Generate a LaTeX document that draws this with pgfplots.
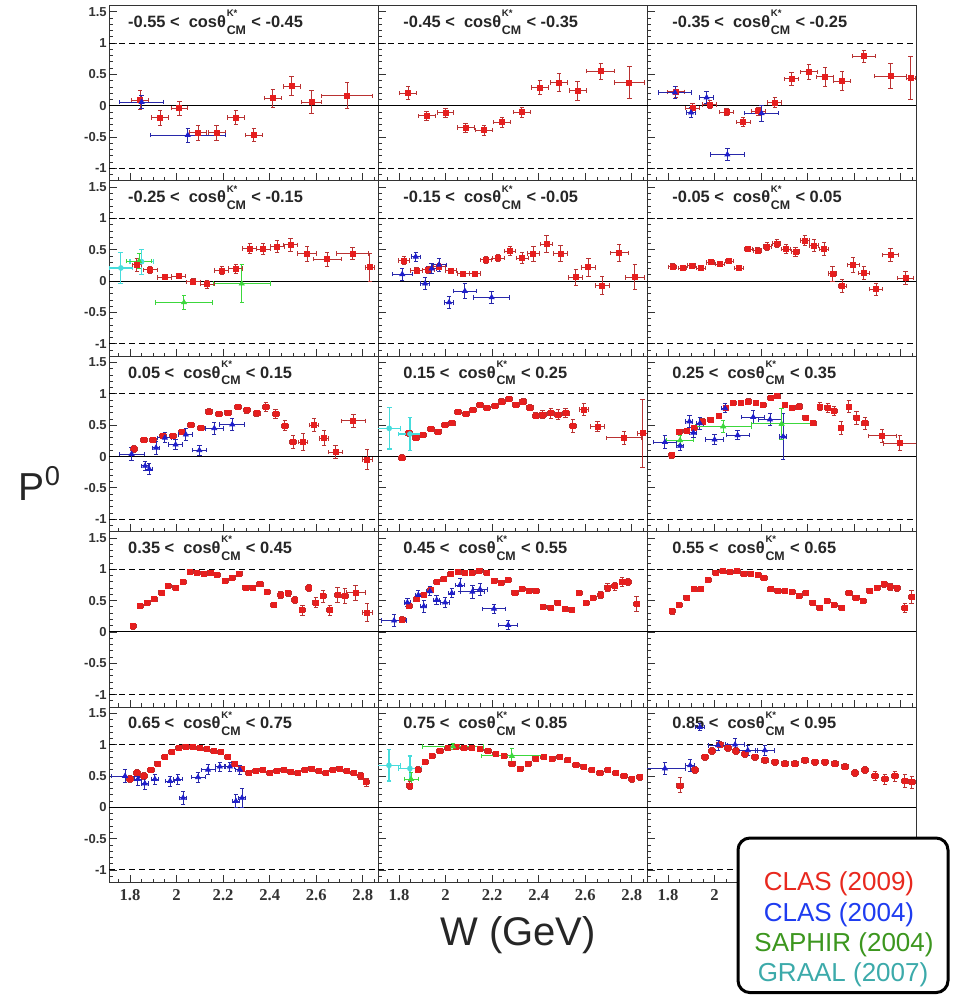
\documentclass[border=0pt]{standalone}
\usepackage{pgfplots}
\pgfplotsset{compat=1.18}
\usepackage{fontspec}
\setmainfont{Liberation Sans}
\newfontfamily\serifb{Liberation Serif}
\definecolor{redmark}{RGB}{230,30,30}
\definecolor{redbar}{RGB}{185,50,50}
\definecolor{bluemark}{RGB}{30,30,205}
\definecolor{bluebar}{RGB}{40,40,170}
\definecolor{greenmark}{RGB}{60,215,60}
\definecolor{cyanmark}{RGB}{70,220,220}
\definecolor{legred}{RGB}{232,40,30}
\definecolor{legblue}{RGB}{30,60,240}
\definecolor{leggreen}{RGB}{60,150,30}
\definecolor{legcyan}{RGB}{60,170,170}
\pgfplotsset{
 table/T/.style={x index=0,y index=1,x error index=2,y error index=3,row sep=\\},
 panel/.style={scale only axis, width=134.5pt, height=87.7pt, anchor=north west,
  xmin=1.71, xmax=2.865, ymin=-1.2, ymax=1.6,
  axis line style={black!80, line width=0.5pt},
  tick align=inside, xtick pos=bottom, ytick pos=left,
  xtick={1.8,2,2.2,2.4,2.6,2.8},
  minor xtick={1.75,1.85,1.9,1.95,2.05,2.1,2.15,2.25,2.3,2.35,2.45,2.5,2.55,2.65,2.7,2.75,2.85},
  ytick={-1,-0.5,0,0.5,1,1.5},
  minor ytick={-1.1,-0.9,-0.8,-0.7,-0.6,-0.4,-0.3,-0.2,-0.1,0.1,0.2,0.3,0.4,0.6,0.7,0.8,0.9,1.1,1.2,1.3,1.4},
  xticklabels={}, yticklabels={},
  major tick length=3.8pt, minor tick length=1.9pt,
  every tick/.style={black!80, line width=0.4pt},
  yticklabel style={font=\fontsize{6.5}{7}\selectfont\bfseries, text=black!80, inner sep=1pt},
  xticklabel style={font=\serifb\bfseries\fontsize{8.3}{9}\selectfont, text=black!80, inner sep=0pt, yshift=-3.5pt},
 },
 leftcol/.style={yticklabels={-1,-0.5,0,0.5,1,1.5}},
 botrow/.style={xticklabels={1.8,2,2.2,2.4,2.6,2.8}},
 eb/.style={only marks, error bars/x dir=both, error bars/x explicit, error bars/y dir=both, error bars/y explicit},
 clas09/.style={eb, mark=square*, mark size=1.25pt, mark options={draw=redmark, fill=redmark},
  error bars/error bar style={draw=redbar, line width=0.45pt},
  error bars/error mark options={rotate=90, mark size=1.1pt, draw=redbar, line width=0.45pt}},
 clas04/.style={eb, mark=triangle*, mark size=1.4pt, mark options={draw=bluemark, fill=bluemark},
  error bars/error bar style={draw=bluebar, line width=0.45pt},
  error bars/error mark options={rotate=90, mark size=1.1pt, draw=bluebar, line width=0.45pt}},
 saphir/.style={eb, mark=triangle*, mark size=1.4pt, mark options={draw=greenmark, fill=greenmark},
  error bars/error bar style={draw=greenmark, line width=0.5pt},
  error bars/error mark options={rotate=90, mark size=1.1pt, draw=greenmark, line width=0.5pt}},
 graal/.style={eb, mark=*, mark size=1.2pt, mark options={draw=cyanmark, fill=cyanmark},
  error bars/error bar style={draw=cyanmark, line width=0.6pt},
  error bars/error mark options={rotate=90, mark size=1.2pt, draw=cyanmark, line width=0.6pt}},
}
\newcommand{\reflines}{%
 \draw[black, line width=0.5pt] (axis cs:1.71,0) -- (axis cs:2.865,0);
 \draw[black, line width=0.5pt, dash pattern=on 3pt off 2pt] (axis cs:1.71,1) -- (axis cs:2.865,1);
 \draw[black, line width=0.5pt, dash pattern=on 3pt off 2pt] (axis cs:1.71,-1) -- (axis cs:2.865,-1);}
\newcommand{\kcm}{\kern0.4pt\rlap{\raisebox{5.3pt}{\fontsize{4.8}{4.8}\selectfont K*}}\raisebox{-3.4pt}{\fontsize{6.2}{6.2}\selectfont CM}\kern0.4pt}
\newcommand{\ptitle}[3]{\node[anchor=base west, inner sep=0pt, text=black!85, font=\fontsize{8.2}{9}\selectfont\bfseries] at (rel axis cs:#1,0.876) {#2 <~~cosθ\kcm{} < #3};}
\begin{document}
\begin{tikzpicture}
\path[use as bounding box] (0,0) rectangle (480pt,-497.5pt);
% ---------------- row 0
\begin{axis}[panel, leftcol, at={(54.5pt,-2.75pt)}]
\reflines
\addplot[clas09] table[T]{1.843 0.09 0.036 0.15\\ 1.929 -0.19 0.036 0.12\\ 2.012 -0.04 0.036 0.11\\ 2.092 -0.43 0.036 0.12\\ 2.172 -0.43 0.036 0.12\\ 2.254 -0.19 0.036 0.11\\ 2.332 -0.47 0.036 0.10\\ 2.413 0.12 0.036 0.14\\ 2.494 0.31 0.036 0.15\\ 2.580 0.06 0.043 0.18\\ 2.733 0.16 0.11 0.21\\};
\addplot[clas04] table[T]{1.850 0.06 0.094 0.10\\ 2.048 -0.47 0.16 0.11\\};
\ptitle{0.07}{-0.55}{-0.45}
\end{axis}
\begin{axis}[panel, at={(189pt,-2.75pt)}]
\reflines
\addplot[clas09] table[T]{1.840 0.20 0.036 0.10\\ 1.919 -0.16 0.036 0.07\\ 2.000 -0.11 0.036 0.07\\ 2.086 -0.35 0.036 0.07\\ 2.165 -0.39 0.036 0.08\\ 2.243 -0.26 0.036 0.08\\ 2.327 -0.10 0.036 0.08\\ 2.405 0.29 0.036 0.11\\ 2.487 0.37 0.036 0.14\\ 2.567 0.24 0.036 0.15\\ 2.667 0.55 0.06 0.13\\ 2.789 0.37 0.064 0.26\\};
\ptitle{0.093}{-0.45}{-0.35}
\end{axis}
\begin{axis}[panel, at={(323.5pt,-2.75pt)}]
\reflines
\addplot[clas09] table[T]{1.834 0.22 0.036 0.08\\ 1.906 -0.04 0.03 0.07\\ 1.980 0.02 0.03 0.07\\ 2.052 -0.10 0.03 0.06\\ 2.123 -0.26 0.03 0.07\\ 2.188 -0.09 0.03 0.07\\ 2.259 0.05 0.03 0.08\\ 2.331 0.43 0.03 0.10\\ 2.405 0.54 0.036 0.12\\ 2.474 0.46 0.036 0.15\\ 2.548 0.39 0.036 0.15\\ 2.641 0.79 0.05 0.10\\ 2.756 0.47 0.07 0.20\\ 2.842 0.44 0.02 0.34\\};
\addplot[clas04] table[T]{1.830 0.21 0.072 0.10\\ 1.899 -0.11 0.02 0.08\\ 1.966 0.13 0.03 0.10\\ 2.055 -0.78 0.072 0.10\\ 2.202 -0.12 0.074 0.13\\};
\ptitle{0.093}{-0.35}{-0.25}
\end{axis}
% ---------------- row 1
\begin{axis}[panel, leftcol, at={(54.5pt,-90.45pt)}]
\reflines
\addplot[graal] table[T]{1.761 0.21 0.05 0.245\\ 1.850 0.31 0.05 0.20\\};
\addplot[saphir] table[T]{1.839 0.32 0.054 0.12\\ 2.032 -0.34 0.123 0.11\\ 2.280 -0.04 0.123 0.30\\};
\addplot[clas09] table[T]{1.829 0.26 0.02 0.10\\ 1.886 0.18 0.03 0.05\\ 1.950 0.06 0.03 0.04\\ 2.010 0.08 0.03 0.04\\ 2.072 -0.01 0.03 0.05\\ 2.132 -0.05 0.03 0.06\\ 2.194 0.17 0.03 0.07\\ 2.254 0.20 0.03 0.07\\ 2.315 0.52 0.03 0.08\\ 2.372 0.51 0.03 0.09\\ 2.432 0.55 0.03 0.10\\ 2.490 0.58 0.03 0.10\\ 2.561 0.44 0.04 0.12\\ 2.647 0.35 0.06 0.11\\ 2.756 0.44 0.07 0.10\\ 2.830 0.22 0.02 0.22\\};
\ptitle{0.07}{-0.25}{-0.15}
\end{axis}
\begin{axis}[panel, at={(189pt,-90.45pt)}]
\reflines
\addplot[clas09] table[T]{1.822 0.33 0.025 0.07\\ 1.876 0.17 0.025 0.05\\ 1.926 0.18 0.025 0.05\\ 1.973 0.23 0.025 0.05\\ 2.023 0.17 0.025 0.04\\ 2.076 0.12 0.025 0.04\\ 2.126 0.12 0.025 0.04\\ 2.174 0.34 0.025 0.05\\ 2.226 0.37 0.025 0.06\\ 2.277 0.48 0.025 0.07\\ 2.329 0.37 0.025 0.08\\ 2.377 0.44 0.025 0.12\\ 2.434 0.59 0.025 0.14\\ 2.494 0.44 0.03 0.13\\ 2.559 0.06 0.03 0.13\\ 2.613 0.22 0.03 0.15\\ 2.673 -0.07 0.03 0.14\\ 2.746 0.45 0.04 0.14\\ 2.813 0.06 0.04 0.20\\};
\addplot[clas04] table[T]{1.814 0.11 0.043 0.10\\ 1.872 0.39 0.02 0.07\\ 1.912 -0.04 0.02 0.10\\ 1.940 0.20 0.02 0.08\\ 1.972 0.26 0.03 0.10\\ 2.015 -0.34 0.02 0.10\\ 2.083 -0.16 0.05 0.12\\ 2.198 -0.26 0.077 0.10\\};
\ptitle{0.093}{-0.15}{-0.05}
\end{axis}
\begin{axis}[panel, at={(323.5pt,-90.45pt)}]
\reflines
\addplot[clas09] table[T]{1.820 0.23 0.018 0.05\\ 1.862 0.21 0.018 0.04\\ 1.902 0.25 0.018 0.04\\ 1.942 0.21 0.018 0.04\\ 1.983 0.30 0.018 0.03\\ 2.023 0.27 0.018 0.03\\ 2.063 0.32 0.018 0.03\\ 2.105 0.21 0.018 0.04\\ 2.145 0.51 0.018 0.04\\ 2.185 0.49 0.018 0.05\\ 2.226 0.55 0.018 0.06\\ 2.267 0.60 0.018 0.07\\ 2.307 0.51 0.018 0.07\\ 2.348 0.47 0.018 0.07\\ 2.388 0.65 0.018 0.08\\ 2.427 0.57 0.018 0.10\\ 2.470 0.51 0.018 0.10\\ 2.507 0.12 0.018 0.12\\ 2.548 -0.08 0.018 0.10\\ 2.595 0.26 0.025 0.12\\ 2.641 0.13 0.025 0.10\\ 2.693 -0.13 0.03 0.10\\ 2.756 0.42 0.035 0.10\\ 2.820 0.05 0.035 0.10\\};
\ptitle{0.093}{-0.05}{0.05}
\end{axis}
% ---------------- row 2
\begin{axis}[panel, leftcol, at={(54.5pt,-178.15pt)}]
\reflines
\addplot[clas09] table[T]{1.817 0.12 0.015 0.05\\ 1.860 0.26 0.015 0.04\\ 1.900 0.26 0.015 0.04\\ 1.943 0.33 0.015 0.04\\ 1.983 0.33 0.015 0.04\\ 2.022 0.39 0.015 0.04\\ 2.062 0.50 0.015 0.03\\ 2.104 0.46 0.015 0.03\\ 2.140 0.72 0.015 0.04\\ 2.183 0.68 0.015 0.04\\ 2.222 0.70 0.015 0.04\\ 2.265 0.79 0.015 0.04\\ 2.301 0.74 0.015 0.05\\ 2.344 0.69 0.015 0.05\\ 2.383 0.79 0.015 0.07\\ 2.425 0.68 0.015 0.07\\ 2.465 0.49 0.015 0.08\\ 2.501 0.23 0.015 0.10\\ 2.544 0.23 0.02 0.14\\ 2.590 0.50 0.02 0.10\\ 2.634 0.29 0.02 0.12\\ 2.683 0.07 0.03 0.10\\ 2.759 0.57 0.05 0.10\\ 2.819 -0.05 0.02 0.16\\};
\addplot[clas04] table[T]{1.807 0.04 0.054 0.10\\ 1.865 -0.15 0.015 0.07\\ 1.883 -0.20 0.015 0.09\\ 1.912 0.14 0.015 0.10\\ 1.950 0.30 0.03 0.08\\ 1.996 0.19 0.03 0.08\\ 2.040 0.35 0.03 0.10\\ 2.098 0.10 0.03 0.08\\ 2.162 0.45 0.04 0.10\\ 2.239 0.51 0.054 0.10\\};
\ptitle{0.07}{0.05}{0.15}
\end{axis}
\begin{axis}[panel, at={(189pt,-178.15pt)}]
\reflines
\addplot[clas09] table[T]{1.812 -0.02 0.015 0.05\\ 1.844 0.37 0.015 0.05\\ 1.873 0.30 0.015 0.04\\ 1.904 0.34 0.015 0.04\\ 1.936 0.44 0.015 0.04\\ 1.966 0.40 0.015 0.04\\ 1.998 0.50 0.015 0.04\\ 2.026 0.53 0.015 0.04\\ 2.055 0.71 0.015 0.04\\ 2.088 0.68 0.015 0.04\\ 2.119 0.74 0.015 0.04\\ 2.148 0.82 0.015 0.04\\ 2.179 0.77 0.015 0.04\\ 2.212 0.81 0.015 0.04\\ 2.241 0.88 0.015 0.04\\ 2.274 0.92 0.015 0.04\\ 2.302 0.83 0.015 0.04\\ 2.334 0.88 0.015 0.04\\ 2.362 0.78 0.015 0.05\\ 2.387 0.65 0.015 0.05\\ 2.417 0.67 0.015 0.06\\ 2.452 0.69 0.015 0.08\\ 2.484 0.67 0.015 0.08\\ 2.515 0.69 0.015 0.07\\ 2.546 0.49 0.015 0.10\\ 2.594 0.75 0.02 0.10\\ 2.653 0.48 0.03 0.08\\ 2.766 0.30 0.075 0.10\\ 2.846 0.37 0.02 0.54\\};
\addplot[graal] table[T]{1.758 0.45 0.05 0.33\\ 1.847 0.36 0.05 0.26\\};
\ptitle{0.093}{0.15}{0.25}
\end{axis}
\begin{axis}[panel, at={(323.5pt,-178.15pt)}]
\reflines
\addplot[clas09] table[T]{1.816 0.02 0.012 0.05\\ 1.849 0.40 0.012 0.04\\ 1.880 0.41 0.012 0.04\\ 1.913 0.46 0.012 0.04\\ 1.949 0.56 0.012 0.04\\ 1.983 0.59 0.012 0.04\\ 2.019 0.65 0.012 0.04\\ 2.049 0.78 0.012 0.04\\ 2.080 0.85 0.012 0.04\\ 2.113 0.85 0.012 0.04\\ 2.145 0.88 0.012 0.04\\ 2.178 0.85 0.012 0.04\\ 2.209 0.82 0.012 0.04\\ 2.241 0.93 0.012 0.04\\ 2.269 0.96 0.012 0.04\\ 2.302 0.82 0.012 0.04\\ 2.334 0.78 0.012 0.04\\ 2.364 0.80 0.012 0.04\\ 2.391 0.62 0.012 0.04\\ 2.424 0.53 0.012 0.04\\ 2.452 0.80 0.012 0.07\\ 2.486 0.78 0.012 0.07\\ 2.514 0.73 0.012 0.07\\ 2.543 0.46 0.012 0.10\\ 2.577 0.80 0.012 0.10\\ 2.610 0.62 0.012 0.10\\ 2.646 0.53 0.015 0.10\\ 2.720 0.33 0.06 0.10\\ 2.796 0.21 0.07 0.12\\};
\addplot[clas04] table[T]{1.787 0.23 0.05 0.10\\ 1.852 0.17 0.015 0.07\\ 1.892 0.56 0.015 0.10\\ 1.909 0.38 0.015 0.07\\ 1.937 0.53 0.015 0.10\\ 2.000 0.27 0.04 0.08\\ 2.045 0.77 0.015 0.07\\ 2.099 0.34 0.05 0.07\\ 2.166 0.63 0.05 0.10\\ 2.238 0.59 0.05 0.10\\ 2.295 0.32 0.015 0.37\\};
\addplot[saphir] table[T]{1.852 0.26 0.059 0.07\\ 2.037 0.48 0.12 0.10\\ 2.288 0.52 0.13 0.25\\};
\ptitle{0.093}{0.25}{0.35}
\end{axis}
% ---------------- row 3
\begin{axis}[panel, leftcol, at={(54.5pt,-265.85pt)}]
\reflines
\addplot[clas09] table[T]{1.814 0.09 0.013 0.05\\ 1.843 0.41 0.013 0.04\\ 1.874 0.47 0.013 0.04\\ 1.904 0.52 0.013 0.04\\ 1.936 0.63 0.013 0.04\\ 1.965 0.73 0.013 0.03\\ 1.996 0.71 0.013 0.03\\ 2.029 0.80 0.013 0.03\\ 2.058 0.96 0.013 0.03\\ 2.089 0.94 0.013 0.03\\ 2.118 0.93 0.013 0.03\\ 2.146 0.95 0.013 0.03\\ 2.175 0.91 0.013 0.03\\ 2.208 0.82 0.013 0.03\\ 2.239 0.87 0.013 0.03\\ 2.269 0.93 0.013 0.03\\ 2.298 0.71 0.013 0.03\\ 2.327 0.71 0.013 0.03\\ 2.358 0.76 0.013 0.03\\ 2.389 0.64 0.013 0.04\\ 2.418 0.43 0.013 0.04\\ 2.447 0.59 0.013 0.05\\ 2.480 0.62 0.013 0.05\\ 2.508 0.51 0.013 0.06\\ 2.540 0.35 0.013 0.08\\ 2.568 0.70 0.013 0.06\\ 2.598 0.47 0.013 0.08\\ 2.630 0.57 0.013 0.10\\ 2.658 0.35 0.013 0.08\\ 2.691 0.59 0.013 0.12\\ 2.723 0.57 0.013 0.12\\ 2.769 0.63 0.04 0.12\\ 2.819 0.31 0.02 0.14\\};
\ptitle{0.07}{0.35}{0.45}
\end{axis}
\begin{axis}[panel, at={(189pt,-265.85pt)}]
\reflines
\addplot[clas09] table[T]{1.814 0.20 0.013 0.04\\ 1.844 0.41 0.013 0.04\\ 1.876 0.52 0.013 0.04\\ 1.907 0.59 0.013 0.04\\ 1.936 0.67 0.013 0.04\\ 1.962 0.80 0.013 0.03\\ 1.993 0.84 0.013 0.03\\ 2.023 0.92 0.013 0.03\\ 2.055 0.96 0.013 0.03\\ 2.083 0.94 0.013 0.03\\ 2.115 0.95 0.013 0.03\\ 2.145 0.98 0.013 0.03\\ 2.176 0.95 0.013 0.03\\ 2.208 0.82 0.013 0.03\\ 2.238 0.79 0.013 0.03\\ 2.269 0.83 0.013 0.03\\ 2.298 0.63 0.013 0.03\\ 2.329 0.69 0.013 0.03\\ 2.359 0.66 0.013 0.03\\ 2.390 0.65 0.013 0.03\\ 2.419 0.40 0.013 0.04\\ 2.451 0.39 0.013 0.04\\ 2.481 0.47 0.013 0.04\\ 2.513 0.36 0.013 0.04\\ 2.541 0.35 0.013 0.04\\ 2.573 0.62 0.013 0.04\\ 2.603 0.46 0.013 0.04\\ 2.634 0.54 0.013 0.04\\ 2.666 0.59 0.013 0.05\\ 2.696 0.71 0.013 0.07\\ 2.727 0.73 0.013 0.06\\ 2.758 0.80 0.013 0.07\\ 2.784 0.80 0.013 0.06\\ 2.820 0.45 0.013 0.12\\};
\addplot[clas04] table[T]{1.779 0.18 0.054 0.10\\ 1.836 0.47 0.013 0.07\\ 1.883 0.59 0.013 0.07\\ 1.907 0.41 0.013 0.10\\ 1.933 0.65 0.013 0.07\\ 1.962 0.51 0.013 0.07\\ 1.998 0.47 0.02 0.08\\ 2.027 0.62 0.013 0.07\\ 2.062 0.75 0.02 0.10\\ 2.115 0.64 0.05 0.10\\ 2.148 0.68 0.03 0.10\\ 2.208 0.37 0.05 0.07\\ 2.269 0.11 0.04 0.07\\};
\ptitle{0.093}{0.45}{0.55}
\end{axis}
\begin{axis}[panel, at={(323.5pt,-265.85pt)}]
\reflines
\addplot[clas09] table[T]{1.819 0.33 0.013 0.05\\ 1.849 0.43 0.013 0.04\\ 1.880 0.55 0.013 0.04\\ 1.912 0.68 0.013 0.04\\ 1.941 0.68 0.013 0.04\\ 1.973 0.83 0.013 0.03\\ 2.005 0.95 0.013 0.03\\ 2.035 0.97 0.013 0.03\\ 2.066 0.96 0.013 0.03\\ 2.098 0.97 0.013 0.03\\ 2.126 0.93 0.013 0.03\\ 2.156 0.93 0.013 0.03\\ 2.188 0.91 0.013 0.03\\ 2.212 0.86 0.013 0.03\\ 2.242 0.68 0.013 0.03\\ 2.271 0.66 0.013 0.03\\ 2.302 0.65 0.013 0.03\\ 2.334 0.64 0.013 0.03\\ 2.364 0.57 0.013 0.03\\ 2.392 0.62 0.013 0.03\\ 2.421 0.47 0.013 0.03\\ 2.452 0.39 0.013 0.03\\ 2.484 0.49 0.013 0.03\\ 2.514 0.43 0.013 0.03\\ 2.546 0.39 0.013 0.04\\ 2.577 0.62 0.013 0.04\\ 2.607 0.55 0.013 0.04\\ 2.638 0.49 0.013 0.04\\ 2.667 0.66 0.013 0.04\\ 2.698 0.71 0.013 0.04\\ 2.728 0.76 0.013 0.05\\ 2.755 0.72 0.013 0.05\\ 2.784 0.70 0.013 0.05\\ 2.817 0.38 0.013 0.07\\ 2.846 0.56 0.013 0.10\\};
\ptitle{0.093}{0.55}{0.65}
\end{axis}
% ---------------- row 4
\begin{axis}[panel, leftcol, botrow, at={(54.5pt,-353.55pt)}]
\reflines
\addplot[clas09] table[T]{1.800 0.45 0.013 0.06\\ 1.830 0.55 0.013 0.05\\ 1.860 0.50 0.013 0.05\\ 1.890 0.60 0.013 0.04\\ 1.920 0.70 0.013 0.04\\ 1.950 0.80 0.013 0.04\\ 1.980 0.88 0.013 0.03\\ 2.010 0.95 0.013 0.03\\ 2.040 0.97 0.013 0.03\\ 2.070 0.96 0.013 0.03\\ 2.100 0.95 0.013 0.03\\ 2.130 0.93 0.013 0.03\\ 2.160 0.90 0.013 0.03\\ 2.190 0.88 0.013 0.03\\ 2.220 0.80 0.013 0.03\\ 2.250 0.70 0.013 0.03\\ 2.280 0.62 0.013 0.03\\ 2.310 0.55 0.013 0.03\\ 2.340 0.58 0.013 0.03\\ 2.370 0.60 0.013 0.03\\ 2.400 0.55 0.013 0.03\\ 2.430 0.58 0.013 0.03\\ 2.460 0.60 0.013 0.03\\ 2.490 0.57 0.013 0.03\\ 2.520 0.55 0.013 0.03\\ 2.550 0.60 0.013 0.03\\ 2.580 0.62 0.013 0.03\\ 2.610 0.58 0.013 0.03\\ 2.640 0.55 0.013 0.03\\ 2.670 0.60 0.013 0.04\\ 2.700 0.62 0.013 0.04\\ 2.730 0.58 0.013 0.04\\ 2.760 0.55 0.013 0.04\\ 2.790 0.50 0.013 0.05\\ 2.815 0.40 0.013 0.06\\};
\addplot[clas04] table[T]{1.779 0.50 0.06 0.10\\ 1.834 0.45 0.015 0.10\\ 1.864 0.38 0.015 0.10\\ 1.907 0.45 0.015 0.08\\ 1.972 0.42 0.02 0.08\\ 2.006 0.45 0.02 0.08\\ 2.028 0.15 0.015 0.10\\ 2.092 0.48 0.03 0.08\\ 2.135 0.60 0.03 0.08\\ 2.186 0.65 0.02 0.07\\ 2.229 0.65 0.02 0.07\\ 2.272 0.60 0.02 0.07\\ 2.255 0.10 0.015 0.10\\ 2.281 0.15 0.015 0.15\\};
\ptitle{0.07}{0.65}{0.75}
\end{axis}
\begin{axis}[panel, botrow, at={(189pt,-353.55pt)}]
\reflines
\addplot[graal] table[T]{1.757 0.67 0.05 0.25\\ 1.847 0.62 0.05 0.20\\};
\addplot[clas09] table[T]{1.847 0.35 0.013 0.06\\ 1.882 0.60 0.013 0.05\\ 1.912 0.72 0.013 0.04\\ 1.942 0.82 0.013 0.04\\ 1.976 0.90 0.013 0.03\\ 2.010 0.95 0.013 0.03\\ 2.045 0.97 0.013 0.03\\ 2.079 0.95 0.013 0.03\\ 2.113 0.95 0.013 0.03\\ 2.148 0.93 0.013 0.03\\ 2.182 0.90 0.013 0.03\\ 2.216 0.85 0.013 0.03\\ 2.251 0.82 0.013 0.03\\ 2.285 0.70 0.013 0.03\\ 2.320 0.62 0.013 0.04\\ 2.354 0.70 0.013 0.04\\ 2.388 0.78 0.013 0.03\\ 2.422 0.80 0.013 0.03\\ 2.457 0.78 0.013 0.03\\ 2.491 0.80 0.013 0.03\\ 2.525 0.75 0.013 0.03\\ 2.560 0.68 0.013 0.03\\ 2.594 0.65 0.013 0.04\\ 2.628 0.60 0.013 0.04\\ 2.663 0.55 0.013 0.04\\ 2.697 0.60 0.013 0.04\\ 2.731 0.55 0.013 0.04\\ 2.766 0.50 0.013 0.04\\ 2.800 0.45 0.013 0.05\\ 2.834 0.48 0.013 0.05\\};
\addplot[saphir] table[T]{1.852 0.45 0.03 0.10\\ 2.032 0.97 0.13 0.05\\ 2.285 0.82 0.13 0.12\\};
\ptitle{0.093}{0.75}{0.85}
\end{axis}
\begin{axis}[panel, xticklabels={1.8,2}, at={(323.5pt,-353.55pt)}]
\reflines
\addplot[clas09] table[T]{1.852 0.35 0.015 0.12\\ 1.916 0.60 0.015 0.06\\ 1.959 0.80 0.015 0.05\\ 1.989 0.90 0.015 0.05\\ 2.023 1.00 0.015 0.05\\ 2.058 0.95 0.015 0.05\\ 2.092 0.90 0.015 0.05\\ 2.131 0.85 0.015 0.05\\ 2.173 0.80 0.015 0.05\\ 2.216 0.75 0.015 0.05\\ 2.259 0.72 0.015 0.05\\ 2.302 0.70 0.015 0.05\\ 2.345 0.70 0.015 0.05\\ 2.388 0.75 0.015 0.05\\ 2.431 0.72 0.015 0.05\\ 2.474 0.72 0.015 0.05\\ 2.517 0.70 0.015 0.05\\ 2.560 0.65 0.015 0.05\\ 2.603 0.55 0.015 0.06\\ 2.646 0.60 0.015 0.06\\ 2.689 0.50 0.015 0.07\\ 2.731 0.45 0.015 0.08\\ 2.774 0.50 0.015 0.08\\ 2.817 0.42 0.015 0.10\\ 2.847 0.40 0.015 0.10\\};
\addplot[clas04] table[T]{1.787 0.62 0.09 0.10\\ 1.895 0.67 0.02 0.10\\ 1.937 1.28 0.02 0.06\\ 2.015 0.99 0.04 0.08\\ 2.088 1.00 0.04 0.10\\ 2.143 0.91 0.04 0.08\\ 2.216 0.91 0.04 0.08\\};
\ptitle{0.093}{0.85}{0.95}
\end{axis}
% ---------------- labels and legend
\node[font=\fontsize{19.5}{22}\selectfont, text=black!85] at (20pt,-241.5pt) {P\textsuperscript{0}};
\node[font=\fontsize{20}{24}\selectfont, text=black!85] at (259pt,-467.5pt) {W (GeV)};
\draw[line width=1.5pt, rounded corners=6pt, fill=white] (369pt,-419pt) rectangle (474pt,-496.3pt);
\node[font=\fontsize{13}{14}\selectfont, text=legred] at (419.5pt,-442pt) {CLAS (2009)};
\node[font=\fontsize{13}{14}\selectfont, text=legblue] at (419.5pt,-457.5pt) {CLAS (2004)};
\node[font=\fontsize{13}{14}\selectfont, text=leggreen] at (422pt,-472.5pt) {SAPHIR (2004)};
\node[font=\fontsize{13}{14}\selectfont, text=legcyan] at (421.5pt,-487.5pt) {GRAAL (2007)};
\end{tikzpicture}
\end{document}
